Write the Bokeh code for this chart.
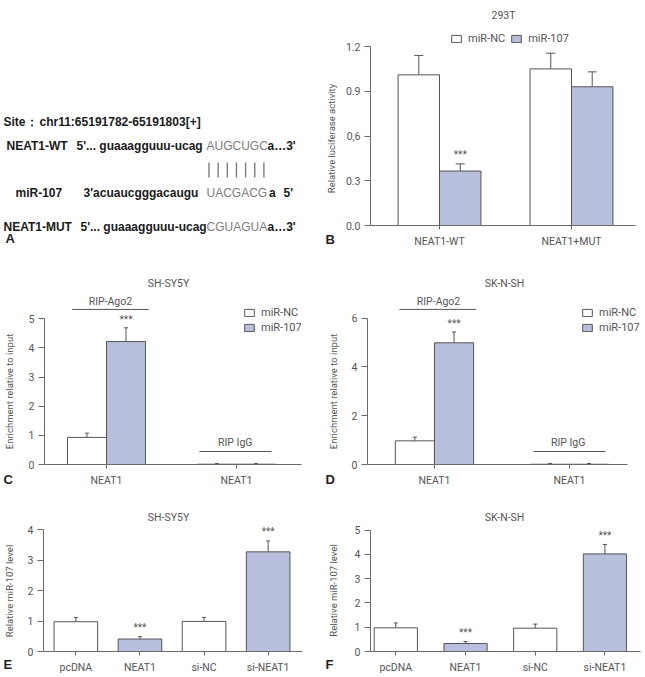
from math import pi

from bokeh.plotting import figure
from bokeh.layouts import column, row
from bokeh.models import (ColumnDataSource, Whisker, TeeHead, Legend, LegendItem,
                          Label, FixedTicker, Range1d)
from bokeh.core.properties import value
from bokeh.embed import file_html
from bokeh.resources import INLINE

# ---- B: dual-luciferase reporter, 293T ----
luc_groups = ["NEAT1-WT", "NEAT1+MUT"]
luc_nc = [1.01, 1.05]
luc_nc_sd = [0.13, 0.105]
luc_mir = [0.365, 0.93]
luc_mir_sd = [0.048, 0.10]
luc_sig = ["***", ""]
luc_yticks = [0.0, 0.3, 0.6, 0.9, 1.2]
luc_ylabels = ["0.0", "0.3", "0,6", "0.9", "1.2"]

# ---- C / D: RIP assay (Ago2 vs IgG) ----
rip_groups = ["NEAT1", "NEAT1"]
sh_rip_nc = [0.93, 0.01]
sh_rip_nc_sd = [0.145, 0.02]
sh_rip_mir = [4.22, 0.01]
sh_rip_mir_sd = [0.47, 0.02]
sk_rip_nc = [0.97, 0.01]
sk_rip_nc_sd = [0.15, 0.03]
sk_rip_mir = [4.99, 0.01]
sk_rip_mir_sd = [0.44, 0.03]
rip_sig = ["***", ""]
sh_rip_yticks = [0, 1, 2, 3, 4, 5]
sk_rip_yticks = [0, 2, 4, 6]

# ---- E / F: miR-107 level after NEAT1 over-expression / knock-down ----
treat = ["pcDNA", "NEAT1", "si-NC", "si-NEAT1"]
treat_blue = [False, True, False, True]
treat_sig = ["", "***", "", "***"]
sh_level = [0.98, 0.41, 0.99, 3.28]
sh_level_sd = [0.14, 0.08, 0.13, 0.36]
sk_level = [0.975, 0.33, 0.96, 4.02]
sk_level_sd = [0.20, 0.08, 0.17, 0.39]
sh_level_yticks = [0, 1, 2, 3, 4]
sk_level_yticks = [0, 1, 2, 3, 4, 5]

FONT = "Roboto"
BOLD = "Liberation Sans"
INK = "#555555"
AXIS = "#6a6a6a"
BLUE = "#b7bfdc"
WHITE = "#ffffff"
STRIP = 18
PAD = 5  # axis-less frames start this far below the canvas top


def blank(w, h):
    """A frame-only canvas measured in pixels from the canvas top-left."""
    f = figure(frame_width=w, frame_height=h, x_range=Range1d(0, w),
               y_range=Range1d(-PAD, h - PAD), title=None,
               x_axis_location=None, y_axis_location=None,
               output_backend="svg", toolbar_location=None,
               min_border=0, min_border_left=0, min_border_right=0,
               min_border_top=0, min_border_bottom=0)
    f.grid.visible = False
    f.outline_line_color = None
    return f


def flip(h, ys):
    return [h - y for y in ys]


def side_strip(h, ylabel, lx, ly, letter, ty):
    s = blank(STRIP, h)
    s.text(x=[lx], y=flip(h, [ly]), text=[ylabel], angle=pi / 2, text_align="center",
           text_baseline="middle", text_font=value(FONT), text_font_size="9.5px",
           text_color=INK)
    s.text(x=[3], y=flip(h, [ty]), text=[letter], text_align="left",
           text_baseline="middle", text_font=value(BOLD), text_font_style="bold",
           text_font_size="13px", text_color="#222222")
    return s


def panel(w, h, borders, xr, yr, ytop, yticks, ylabels, xticks, xlabels, xbounds=None):
    left, right, top, bottom = borders
    p = figure(width=w, height=h, x_range=Range1d(*xr), y_range=Range1d(*yr),
               output_backend="svg", toolbar_location=None,
               min_border_left=left, min_border_right=right,
               min_border_top=top, min_border_bottom=bottom)
    p.grid.visible = False
    p.outline_line_color = None
    for ax in (p.xaxis[0], p.yaxis[0]):
        ax.axis_line_color = AXIS
        ax.major_tick_line_color = AXIS
        ax.minor_tick_line_color = None
        ax.major_tick_in = 0
        ax.major_label_text_font = FONT
        ax.major_label_text_font_size = "10.5px"
        ax.major_label_text_color = INK
    yax = p.yaxis[0]
    yax.bounds = (0, ytop)
    yax.ticker = FixedTicker(ticks=yticks)
    yax.major_label_overrides = {t: l for t, l in zip(yticks, ylabels)}
    yax.major_tick_out = 6
    yax.major_label_standoff = 4
    xax = p.xaxis[0]
    if xbounds is not None:
        xax.bounds = xbounds
    xax.ticker = FixedTicker(ticks=xticks)
    xax.major_label_overrides = {t: l for t, l in zip(xticks, xlabels)}
    xax.major_tick_out = 4
    xax.major_label_standoff = 5
    return p


def add_errors(p, xs, means, sds, cap):
    src = ColumnDataSource(dict(x=xs, lower=means,
                                upper=[m + s for m, s in zip(means, sds)]))
    p.add_layout(Whisker(source=src, base="x", lower="lower", upper="upper",
                         dimension="height", line_color=INK, line_width=1,
                         lower_head=None,
                         upper_head=TeeHead(size=cap, line_color=INK, line_width=1)))


def add_stars(p, xs, means, sds, marks, offset):
    tops = [m + s for m, s in zip(means, sds)]
    p.text(x=xs, y=tops, text=marks, y_offset=-offset, text_align="center",
           text_baseline="middle", text_font=value(FONT), text_font_size="10px",
           text_color=INK)


def title_label(p, x, y, txt):
    p.add_layout(Label(x=x, y=y, x_units="screen", y_units="screen", text=txt,
                       text_font=FONT, text_font_size="10.5px", text_color=INK,
                       text_align="center", text_baseline="middle"))


def legend(p, renderers, loc, horizontal, spacing):
    lg = Legend(items=[LegendItem(label="miR-NC", renderers=[renderers[0]]),
                       LegendItem(label="miR-107", renderers=[renderers[1]])],
                location=loc, orientation="horizontal" if horizontal else "vertical",
                glyph_width=12, glyph_height=9, label_height=9, label_standoff=6,
                spacing=spacing, padding=0, margin=0, border_line_color=None,
                background_fill_alpha=0, label_text_font=FONT,
                label_text_font_size="11px", label_text_color=INK)
    p.add_layout(lg)


def grouped(p, centers, nc, nc_sd, mir, mir_sd, width, cap):
    x_nc = [c - width / 2 for c in centers]
    x_mir = [c + width / 2 for c in centers]
    r_nc = p.vbar(x=x_nc, top=nc, width=width, bottom=0, fill_color=WHITE,
                  line_color=INK, line_width=1)
    r_mir = p.vbar(x=x_mir, top=mir, width=width, bottom=0, fill_color=BLUE,
                   line_color=INK, line_width=1)
    add_errors(p, x_nc, nc, nc_sd, cap)
    add_errors(p, x_mir, mir, mir_sd, cap)
    return x_nc, x_mir, r_nc, r_mir


def rip_notes(p, lines, texts):
    (ax0, ax1, ay), (gx0, gx1, gy) = lines
    p.segment(x0=[ax0, gx0], y0=[ay, gy], x1=[ax1, gx1], y1=[ay, gy],
              line_color=INK, line_width=1)
    for tx, ty, tt in texts:
        p.add_layout(Label(x=tx, y=ty, text=tt, text_font=FONT, text_font_size="10.5px",
                           text_color=INK, text_align="center", text_baseline="middle"))


# ---------------- A: binding site sequences ----------------
A_H = 250
pa = blank(322, A_H)
bold_txt = ["Site\uff1a", "chr11:65191782-65191803[+]",
            "NEAT1-WT", "5'... guaaagguuu-ucag", "a\u20263'",
            "miR-107", "3'acuaucgggacaugu", "a", "5'",
            "NEAT1-MUT", "5'... guaaagguuu-ucag", "a\u20263'"]
bold_x = [3, 39, 6, 76, 267, 15, 83, 268.5, 283, 3, 80, 267]
bold_y = [121, 121, 145, 145, 145, 192, 192, 192, 192, 226, 226, 226]
pa.text(x=bold_x, y=flip(A_H, bold_y), text=bold_txt, text_align="left",
        text_baseline="middle", text_font=value(BOLD), text_font_style="bold",
        text_font_size="12px", text_color="#1a1a1a")
seed_txt = ["AUGCUGC", "UACGACG", "CGUAGUA"]
pa.text(x=[206, 206, 206], y=flip(A_H, [145, 192, 226]), text=seed_txt,
        text_align="left", text_baseline="middle", text_font=value(BOLD),
        text_font_size="12px", text_color="#7d7d7d")
pair_x = [208.5 + 9.15 * i for i in range(7)]
pa.segment(x0=pair_x, y0=flip(A_H, [162] * 7), x1=pair_x, y1=flip(A_H, [177] * 7),
           line_color="#7d7d7d", line_width=1.4)
pa.text(x=[5], y=flip(A_H, [238]), text=["A"], text_align="left",
        text_baseline="middle", text_font=value(BOLD), text_font_style="bold",
        text_font_size="13px", text_color="#222222")

# ---------------- B ----------------
sb = side_strip(250, "Relative luciferase activity", 9, 138, "B", 239)
pb = panel(305, 250, (30, 10, 5, 21), (0.477, 2.485), (0, 1.475), 1.2,
           luc_yticks, luc_ylabels, [1, 2], luc_groups)
xb_nc, xb_mir, rb_nc, rb_mir = grouped(pb, [1, 2], luc_nc, luc_nc_sd, luc_mir,
                                       luc_mir_sd, 0.314, 9)
add_stars(pb, xb_mir, luc_mir, luc_mir_sd, luc_sig, 9)
legend(pb, [rb_nc, rb_mir], (80, 180), True, 5)
title_label(pb, 133, 210, "293T")

# ---------------- C ----------------
sc = side_strip(245, "Enrichment relative to input", 9, 141, "C", 229)
pc = panel(304, 245, (26, 21, 5, 31), (0.523, 2.5), (0, 7.17), 5,
           sh_rip_yticks, [str(t) for t in sh_rip_yticks], [1, 2], rip_groups)
xc_nc, xc_mir, rc_nc, rc_mir = grouped(pc, [1, 2], sh_rip_nc, sh_rip_nc_sd,
                                       sh_rip_mir, sh_rip_mir_sd, 0.30, 4)
add_stars(pc, xc_mir, sh_rip_mir, sh_rip_mir_sd, rip_sig, 8)
rip_notes(pc, [(0.736, 1.325, 5.32), (1.715, 2.27, 0.446)],
          [(1.03, 5.60, "RIP-Ago2"), (1.99, 0.76, "RIP IgG")])
legend(pc, [rc_nc, rc_mir], (199, 130), False, 2)
title_label(pc, 124, 181, "SH-SY5Y")

# ---------------- D ----------------
sd = side_strip(245, "Enrichment relative to input", 10.5, 141, "D", 229)
pd = panel(305, 245, (27, 0, 5, 31), (0.504, 2.563), (0, 8.57), 6,
           sk_rip_yticks, [str(t) for t in sk_rip_yticks], [1, 2], rip_groups,
           xbounds=(0.504, 2.43))
xd_nc, xd_mir, rd_nc, rd_mir = grouped(pd, [1, 2], sk_rip_nc, sk_rip_nc_sd,
                                       sk_rip_mir, sk_rip_mir_sd, 0.29, 4)
add_stars(pd, xd_mir, sk_rip_mir, sk_rip_mir_sd, rip_sig, 9)
rip_notes(pd, [(0.74, 1.31, 6.36), (1.733, 2.267, 0.533)],
          [(1.03, 6.70, "RIP-Ago2"), (1.99, 0.89, "RIP IgG")])
legend(pd, [rd_nc, rd_mir], (214, 130), False, 2)
title_label(pd, 137, 181, "SK-N-SH")


# ---------------- E / F ----------------
def level_panel(w, h, borders, xr, yr, ytop, yticks, means, sds, width, title, tx):
    p = panel(w, h, borders, xr, yr, ytop, yticks, [str(t) for t in yticks],
              [1, 2, 3, 4], treat)
    xs = [1, 2, 3, 4]
    fills = [BLUE if b else WHITE for b in treat_blue]
    p.vbar(x=xs, top=means, width=width, bottom=0, fill_color=fills,
           line_color=INK, line_width=1)
    add_errors(p, xs, means, sds, 4)
    add_stars(p, xs, means, sds, treat_sig, 9)
    title_label(p, tx, 134, title)
    return p


se = side_strip(182, "Relative miR-107 level", 9, 95.5, "E", 169)
pe = level_panel(304, 182, (25, 20, 5, 25), (0.495, 4.536), (0, 4.97), 4,
                 sh_level_yticks, sh_level, sh_level_sd, 0.68, "SH-SY5Y", 125)
sf = side_strip(182, "Relative miR-107 level", 10.5, 95, "F", 169)
pf = level_panel(305, 182, (30, 5, 5, 26), (0.637, 4.51), (0, 6.22), 5,
                 sk_level_yticks, sk_level, sk_level_sd, 0.62, "SK-N-SH", 134)

layout = column(row(pa, sb, pb), row(sc, pc, sd, pd), row(se, pe, sf, pf))
open("out.html", "w").write(file_html(layout, INLINE))
